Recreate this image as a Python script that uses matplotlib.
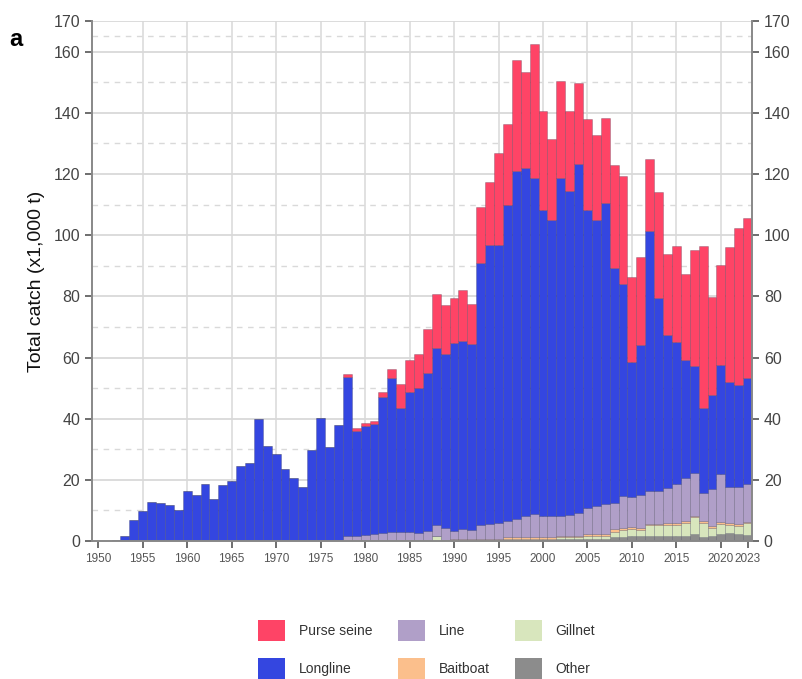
import matplotlib.pyplot as plt
from matplotlib.patches import Patch
import numpy as np

plt.rcParams.update({
    'font.family': ['Liberation Sans', 'DejaVu Sans'],
    'xtick.direction': 'out', 'ytick.direction': 'out',
})

years = np.arange(1950, 2024)

# catch by gear, thousand tonnes
other = [0.0] * 46 + [0.3] * 6 + [0.5] * 3 + [0.7] * 3 + [
    1.3, 1.3, 1.5, 1.5, 1.8, 1.8, 1.8, 1.8, 1.8, 2.2, 1.3, 1.5, 2.2, 2.6, 2.2, 2.0]

gillnet = [0.0] * 38 + [1.5] + [0.0] * 7 + [0.3] * 6 + [0.7] * 3 + [1.0] * 3 + [
    1.7, 2.2, 2.5, 2.2, 3.4, 3.4, 3.5, 3.5, 4.2, 5.7, 4.5, 2.7, 3.4, 2.6, 2.8, 3.9]

baitboat = [0.0] * 30 + [0.3] * 10 + [0.5] * 6 + [0.6] * 12 + [
    0.8, 0.8, 0.6, 0.5, 0.5, 0.5, 0.5, 0.5, 0.6, 0.4, 0.7, 0.8, 0.7, 0.6, 0.6, 0.4]

line = [0.0] * 27 + [
    0.2, 1.6, 1.6, 1.6, 1.9, 2.4, 2.6, 2.6, 2.6, 2.4, 3.0, 3.6, 3.8, 2.8, 3.5, 3.0,
    4.6, 5.2, 5.5, 5.3, 5.9, 7.0, 7.5, 7.0, 7.0, 6.4, 6.6, 7.5, 8.6, 9.1, 9.7, 8.7,
    10.4, 9.8, 10.7, 10.6, 10.6, 11.6, 12.7, 14.1, 13.8, 9.3, 11.9, 15.5, 11.8, 12.0, 12.4]

longline = [
    0.0, 0.0, 0.4, 1.7, 6.9, 9.8, 12.8, 12.3, 11.8, 10.1,
    16.3, 15.2, 18.6, 13.7, 18.3, 19.7, 24.6, 25.4, 39.9, 31.2,
    28.4, 23.4, 20.7, 17.8, 29.7, 40.2, 30.6, 37.7, 52.1, 34.5,
    35.8, 35.9, 44.5, 50.3, 40.5, 45.9, 47.4, 51.5, 57.6, 57.2,
    61.3, 61.4, 60.8, 85.9, 91.2, 90.9, 103.5, 113.8, 113.6, 110.0,
    99.9, 96.7, 110.5, 106.0, 114.1, 97.3, 93.5, 98.4, 76.9, 69.3,
    44.1, 49.1, 85.2, 63.2, 50.1, 46.5, 38.5, 35.1, 27.8, 30.8,
    35.8, 34.4, 33.4, 34.5]

purse_seine = [0.0] * 28 + [
    0.9, 0.7, 1.0, 1.1, 1.4, 3.2, 8.1, 10.4, 11.2, 14.4, 17.6, 15.8,
    15.0, 16.8, 13.2, 18.1, 20.5, 30.0, 26.5, 36.5, 31.4, 43.9,
    32.4, 26.4, 31.7, 26.1, 26.2, 29.7, 28.0, 27.9, 33.7, 35.4,
    27.9, 29.0, 23.5, 34.7, 26.2, 31.4, 28.0, 38.1, 52.8, 32.0,
    32.8, 44.0, 51.4, 52.3]

# bottom to top
gears = ["Other", "Gillnet", "Baitboat", "Line", "Longline", "Purse seine"]
series = [other, gillnet, baitboat, line, longline, purse_seine]
colors = {"Other": "#8c8c8c", "Gillnet": "#d8e6bd", "Baitboat": "#fbbf8c",
          "Line": "#b09fc8", "Longline": "#3446e0", "Purse seine": "#fe4466"}

fig = plt.figure(figsize=(8.02, 6.79), dpi=100)
ax = fig.add_axes([0.1147, 0.2032, 0.823, 0.7658])

# grid
for y in [10, 30, 50, 70, 90, 110, 130, 150, 165]:
    ax.axhline(y, color="#d9d9d9", lw=1.0, ls=(0, (4, 4)), zorder=0)
for y in [20, 40, 60, 80, 100, 120, 140, 160, 170]:
    ax.axhline(y, color="#d9d9d9", lw=1.3, zorder=0)
for x in range(1955, 2021, 5):
    ax.axvline(x, color="#d9d9d9", lw=1.1, zorder=0)

bottom = np.zeros(len(years))
for name, vals in zip(gears, series):
    vals = np.array(vals)
    ax.bar(years, vals, width=1.0, bottom=bottom, color=colors[name],
           edgecolor=(0.1, 0.1, 0.2, 0.3), linewidth=0.5, zorder=2)
    bottom += vals

ax.set_xlim(1949.3, 2023.5)
ax.set_ylim(0, 170)
ax.set_yticks([0, 20, 40, 60, 80, 100, 120, 140, 160, 170])
xt = list(range(1950, 2021, 5)) + [2023]
ax.set_xticks(xt)
ax.set_xticklabels([str(v) for v in xt])

for s in ["left", "right", "bottom"]:
    ax.spines[s].set_color("#888888")
    ax.spines[s].set_linewidth(1.4)
ax.spines["top"].set_visible(False)

ax.tick_params(axis="y", which="both", right=True, labelright=True,
               labelsize=11.5, labelcolor="#444444", color="#555555",
               length=5, width=1.2)
ax.tick_params(axis="x", labelsize=8.5, labelcolor="#555555", color="#555555",
               length=5, width=1.2)

ax.set_ylabel("Total catch (x1,000 t)", fontsize=14, color="#111111", labelpad=6)
fig.text(0.012, 0.932, "a", fontsize=17, fontweight="bold")

order = ["Purse seine", "Longline", "Line", "Baitboat", "Gillnet", "Other"]
handles = [Patch(facecolor=colors[n], edgecolor="none") for n in order]
fig.legend(handles, order, ncol=3, loc="center", bbox_to_anchor=(0.532, 0.043),
           frameon=False, fontsize=10, handlelength=1.95, handleheight=1.95,
           handletextpad=1.0, columnspacing=1.8, labelspacing=1.25,
           labelcolor="#333333")

fig.savefig("out.png", dpi=100)
